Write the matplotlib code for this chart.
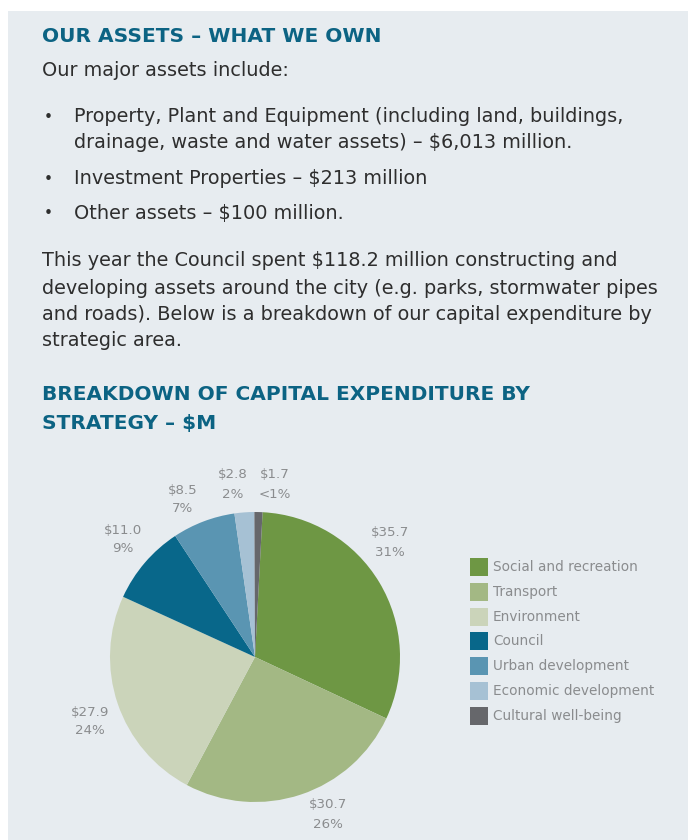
import matplotlib
matplotlib.use("Agg")
import matplotlib.pyplot as plt
from matplotlib.patches import Rectangle

# ---- data ----
categories = ["Social and recreation", "Transport", "Environment", "Council",
              "Urban development", "Economic development", "Cultural well-being"]
values = [35.7, 30.7, 27.9, 11.0, 8.5, 2.8, 1.7]          # $M (labels)
shares = [31.1, 25.8, 24.0, 8.9, 7.0, 2.2, 0.9]            # slice sizes (%)
value_labels = ["$35.7", "$30.7", "$27.9", "$11.0", "$8.5", "$2.8", "$1.7"]
pct_labels = ["31%", "26%", "24%", "9%", "7%", "2%", "<1%"]
colors = ["#6E9744", "#A3B884", "#CBD4BA", "#08678A", "#5A95B2", "#A6C1D4", "#66676B"]

title1 = "OUR ASSETS \u2013 WHAT WE OWN"
intro = "Our major assets include:"
bullets = [
    ["Property, Plant and Equipment (including land, buildings,",
     "drainage, waste and water assets) \u2013 $6,013 million."],
    ["Investment Properties \u2013 $213 million"],
    ["Other assets \u2013 $100 million."],
]
paragraph = [
    "This year the Council spent $118.2 million constructing and",
    "developing assets around the city (e.g. parks, stormwater pipes",
    "and roads). Below is a breakdown of our capital expenditure by",
    "strategic area.",
]
title2 = ["BREAKDOWN OF CAPITAL EXPENDITURE BY", "STRATEGY \u2013 $M"]

# label positions (pixel coords of label centres)
label_pos = [(390, 543), (328, 815), (90, 722), (123, 540), (183, 500), (233, 485), (275, 485)]

W, H = 688, 840
FONT = "DejaVu Sans"
TEAL = "#0C6383"
BODY = "#2E2E2E"
GREY = "#8A8C8E"
BG = "#E7ECF0"
BODY_FS = 13.9
TITLE_FS = 14.5

fig = plt.figure(figsize=(W / 100, H / 100), dpi=100)
fig.patch.set_facecolor("white")
fig.patches.append(Rectangle((8 / W, 0), 1 - 8 / W, 1 - 11 / H, transform=fig.transFigure,
                             facecolor=BG, edgecolor="none", zorder=-5))


def px(x, y):
    return x / W, 1 - y / H


def t(x, y, s, **kw):
    kw.setdefault("family", FONT)
    return fig.text(*px(x, y), s, va="center", ha=kw.pop("ha", "left"), **kw)


t(42, 37, title1, fontsize=TITLE_FS, color=TEAL, weight="bold")
t(42, 70, intro, fontsize=BODY_FS, color=BODY)
ys = [[117, 143], [179], [213]]
for lines, yl in zip(bullets, ys):
    t(44, yl[0], "\u2022", fontsize=BODY_FS * 0.8, color=BODY)
    for line, y in zip(lines, yl):
        t(74, y, line, fontsize=BODY_FS, color=BODY)
for line, y in zip(paragraph, [261, 288, 314, 341]):
    t(42, y, line, fontsize=BODY_FS, color=BODY)
for line, y in zip(title2, [394, 424]):
    t(42, y, line, fontsize=TITLE_FS, color=TEAL, weight="bold")

# pie
cx, cy, r = 255, 657, 145
ax = fig.add_axes([(cx - r) / W, (H - cy - r) / H, 2 * r / W, 2 * r / H])
ax.pie(shares, colors=colors, startangle=87, counterclock=False,
       wedgeprops=dict(linewidth=0))
ax.set_xlim(-1, 1)
ax.set_ylim(-1, 1)
ax.set_aspect("equal")
ax.axis("off")

for (x, y), v, p in zip(label_pos, value_labels, pct_labels):
    t(x, y - 10, v, fontsize=9.6, color=GREY, ha="center")
    t(x, y + 9, p, fontsize=9.6, color=GREY, ha="center")

# legend
for i, (c, name) in enumerate(zip(colors, categories)):
    y = 567 + i * 24.8
    fig.patches.append(Rectangle(px(470, y + 9), 18 / W, 18 / H, transform=fig.transFigure,
                                 facecolor=c, edgecolor="none"))
    t(493, y, name, fontsize=9.8, color=GREY)

fig.savefig("out.png", dpi=100, facecolor=fig.get_facecolor())
